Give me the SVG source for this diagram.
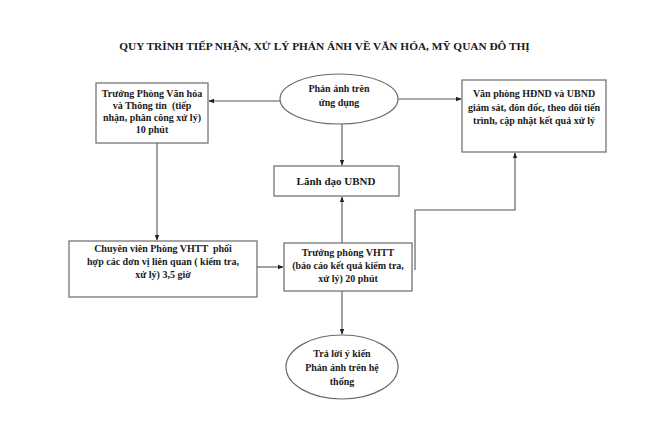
<svg xmlns="http://www.w3.org/2000/svg" width="670" height="426" viewBox="0 0 670 426">
<defs>
<style>
.t{font-family:"Liberation Serif","Times New Roman",serif;font-weight:bold;font-size:10px;fill:#1a1a1a;text-anchor:middle}
.title{font-family:"Liberation Serif","Times New Roman",serif;font-weight:bold;font-size:11.3px;fill:#1a1a1a;text-anchor:middle}
.b{fill:#fff;stroke:#6a6a6a;stroke-width:1.2}
.c{fill:none;stroke:#555;stroke-width:1.1}
</style>
<marker id="ah" viewBox="0 0 8 8" refX="7" refY="4" markerWidth="6" markerHeight="6" orient="auto" markerUnits="userSpaceOnUse">
<path d="M0,1 L8,4 L0,7 Z" fill="#222"/>
</marker>
</defs>
<rect width="670" height="426" fill="#fff"/>
<text class="title" x="324.5" y="50">QUY TRÌNH TIẾP NHẬN, XỬ LÝ PHẢN ÁNH VỀ VĂN HÓA, MỸ QUAN ĐÔ THỊ</text>

<g id="connectors">
<path class="c" d="M280,101 H209" marker-end="url(#ah)"/>
<path class="c" d="M398,99 H461" marker-end="url(#ah)"/>
<path class="c" d="M342,124 V165" marker-end="url(#ah)"/>
<path class="c" d="M157,143 V240" marker-end="url(#ah)"/>
<path class="c" d="M257,267 H283" marker-end="url(#ah)"/>
<path class="c" d="M342,243 V197" marker-end="url(#ah)"/>
<path class="c" d="M342,291 V334" marker-end="url(#ah)"/>
<path class="c" d="M415,270 V210 H515 V153" marker-end="url(#ah)"/>
</g>

<g id="n1">
<rect class="b" x="96" y="83" width="112" height="60"/>
<text class="t" x="152" y="97">Trưởng Phòng Văn hóa</text>
<text class="t" x="152" y="109" xml:space="preserve">và Thông tin  (tiếp</text>
<text class="t" x="152" y="121">nhận, phân công xử lý)</text>
<text class="t" x="152" y="133">10 phút</text>
</g>

<g id="n2">
<ellipse class="b" cx="339" cy="99" rx="59" ry="25"/>
<text class="t" x="339" y="92">Phản ánh trên</text>
<text class="t" x="339" y="106">ứng dụng</text>
</g>

<g id="n3">
<rect class="b" x="462" y="80" width="144" height="72"/>
<text class="t" x="534" y="97">Văn phòng HĐND và UBND</text>
<text class="t" x="534" y="111">giám sát, đôn đốc, theo dõi tiến</text>
<text class="t" x="534" y="124">trình, cập nhật kết quả xử lý</text>
</g>

<g id="n4">
<rect class="b" x="274" y="166" width="125" height="30"/>
<text class="t" x="336" y="185" style="font-size:11px">Lãnh đạo UBND</text>
</g>

<g id="n5">
<rect class="b" x="69" y="241" width="188" height="56"/>
<text class="t" x="163" y="252" xml:space="preserve">Chuyên viên Phòng VHTT  phối</text>
<text class="t" x="163" y="265">hợp các đơn vị liên quan ( kiểm tra,</text>
<text class="t" x="163" y="278">xử lý) 3,5 giờ</text>
</g>

<g id="n6">
<rect class="b" x="284" y="243" width="128" height="48"/>
<text class="t" x="348" y="256">Trưởng phòng VHTT</text>
<text class="t" x="348" y="269">(báo cáo kết quả kiểm tra,</text>
<text class="t" x="348" y="282">xử lý) 20 phút</text>
</g>

<g id="n7">
<ellipse class="b" cx="342" cy="367" rx="56" ry="32"/>
<text class="t" x="342" y="357">Trả lời ý kiến</text>
<text class="t" x="342" y="371">Phản ánh trên hệ</text>
<text class="t" x="342" y="385">thống</text>
</g>
</svg>
